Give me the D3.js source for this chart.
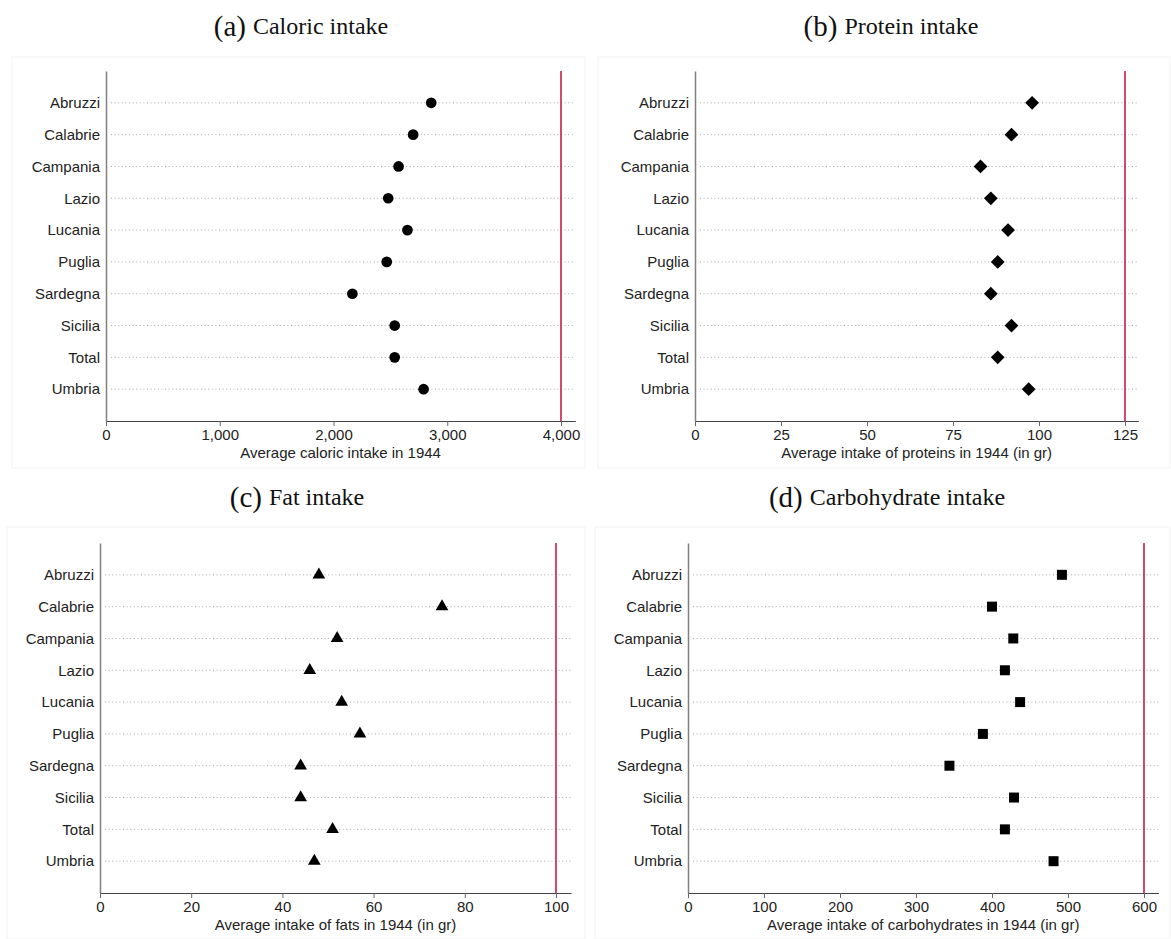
<!DOCTYPE html>
<html><head><meta charset="utf-8">
<script src="https://cdn.jsdelivr.net/npm/d3@7"></script>
<style>body{margin:0;background:#fff;}svg{display:block;}</style>
</head><body>
<script>
const regions = ["Abruzzi","Calabrie","Campania","Lazio","Lucania","Puglia","Sardegna","Sicilia","Total","Umbria"];
const calories = [2859, 2700, 2572, 2481, 2650, 2468, 2166, 2538, 2538, 2792];
const proteins = [98, 92, 83, 86, 91, 88, 86, 92, 88, 97];
const fats = [48, 75, 52, 46, 53, 57, 44, 44, 51, 47];
const carbs = [492, 400, 428, 417, 437, 388, 344, 429, 417, 481];
const calTicks = [0, 1000, 2000, 3000, 4000];
const protTicks = [0, 25, 50, 75, 100, 125];
const fatTicks = [0, 20, 40, 60, 80, 100];
const carbTicks = [0, 100, 200, 300, 400, 500, 600];
const refLines = [4000, 125, 100, 600];
const axisMax = [4125, 128.9, 103.3, 619];
const titles = [["(a)","Caloric intake"],["(b)","Protein intake"],["(c)","Fat intake"],["(d)","Carbohydrate intake"]];
const xTitles = ["Average caloric intake in 1944","Average intake of proteins in 1944 (in gr)","Average intake of fats in 1944 (in gr)","Average intake of carbohydrates in 1944 (in gr)"];
const markers = ["circle","diamond","triangle","square"];

const W = 1171, H = 939;
const svg = d3.select("body").append("svg").attr("width", W).attr("height", H);

const panels = [
  {vals: calories, ticks: calTicks, fmt: d3.format(","), x0: 106, xRef: 561, y0: 71, y1: 421, box:[12,57,585,468], tx: 301, ty: 26},
  {vals: proteins, ticks: protTicks, fmt: d3.format("d"), x0: 695, xRef: 1125, y0: 71, y1: 421, box:[598,57,1170,468], tx: 891, ty: 26},
  {vals: fats, ticks: fatTicks, fmt: d3.format("d"), x0: 100, xRef: 556, y0: 543, y1: 893, box:[7,527,585,939], tx: 297, ty: 497},
  {vals: carbs, ticks: carbTicks, fmt: d3.format("d"), x0: 688, xRef: 1144, y0: 543, y1: 893, box:[595,527,1170,939], tx: 887, ty: 497}
];

const symbolTypes = {circle: d3.symbolCircle, diamond: d3.symbolSquare, triangle: d3.symbolTriangle, square: d3.symbolSquare};
const symbolSizes = {circle: 90, diamond: 95, triangle: 70, square: 100};
const symbolRot = {circle: 0, diamond: 45, triangle: 0, square: 0};
const sans = "'Liberation Sans', Arial, sans-serif";

panels.forEach((p, i) => {
  const g = svg.append("g");
  g.append("rect").attr("x", p.box[0]).attr("y", p.box[1])
    .attr("width", p.box[2]-p.box[0]).attr("height", p.box[3]-p.box[1])
    .attr("fill", "none").attr("stroke", "#f3f3f3").attr("stroke-width", 1);

  const ref = refLines[i];
  const pxPerUnit = (p.xRef - p.x0) / ref;
  const x = d3.scaleLinear().domain([0, axisMax[i]]).range([p.x0, p.x0 + axisMax[i] * pxPerUnit]);
  const y = d3.scalePoint().domain(regions).range([p.y0, p.y1]).padding(1);

  // title
  const t = g.append("text").attr("x", p.tx).attr("y", p.ty).attr("text-anchor", "middle")
    .attr("dominant-baseline", "central")
    .style("font-family", "'Liberation Serif', 'DejaVu Serif', serif").style("fill", "#111");
  t.append("tspan").style("font-size", "29px").text(titles[i][0]);
  t.append("tspan").style("font-size", "24px").attr("dx", 7).text(titles[i][1]);

  // dotted gridlines
  g.selectAll(".grid").data(regions).enter().append("line")
    .attr("x1", p.x0 + 5).attr("x2", x.range()[1])
    .attr("y1", d => y(d)).attr("y2", d => y(d))
    .attr("stroke", "#a8a8a8").attr("stroke-width", 1).attr("stroke-dasharray", "1,2.6");

  // reference red line
  g.append("line").attr("x1", x(ref)).attr("x2", x(ref)).attr("y1", p.y0).attr("y2", p.y1)
    .attr("stroke", "#c4204c").attr("stroke-width", 1.6);

  // x axis
  const xa = g.append("g").attr("transform", `translate(0,${p.y1})`)
    .call(d3.axisBottom(x).tickValues(p.ticks).tickFormat(p.fmt).tickSizeOuter(0).tickSizeInner(5).tickPadding(3));
  xa.select(".domain").attr("stroke", "#444").attr("stroke-width", 1.2);
  xa.selectAll(".tick line").attr("stroke", "#666");
  xa.selectAll(".tick text").style("font-family", sans).style("font-size", "15px").style("fill", "#222");

  // x axis title
  g.append("text").attr("x", (p.x0 + x.range()[1]) / 2).attr("y", p.y1 + 37).attr("text-anchor", "middle")
    .style("font-family", sans).style("font-size", "15px").style("fill", "#222")
    .text(xTitles[i]);

  // y axis
  const ya = g.append("g").attr("transform", `translate(${p.x0},0)`)
    .call(d3.axisLeft(y).tickSize(0).tickPadding(6));
  ya.select(".domain").attr("stroke", "#808080").attr("stroke-width", 1.5);
  ya.selectAll(".tick text").style("font-family", sans).style("font-size", "15px").style("fill", "#222");

  // markers
  const sym = d3.symbol().type(symbolTypes[markers[i]]).size(symbolSizes[markers[i]]);
  g.selectAll(".pt").data(p.vals).enter().append("path")
    .attr("transform", (d, j) => `translate(${x(d)},${y(regions[j])}) rotate(${symbolRot[markers[i]]})`)
    .attr("d", sym).attr("fill", "#000");
});
</script>
</body></html>
